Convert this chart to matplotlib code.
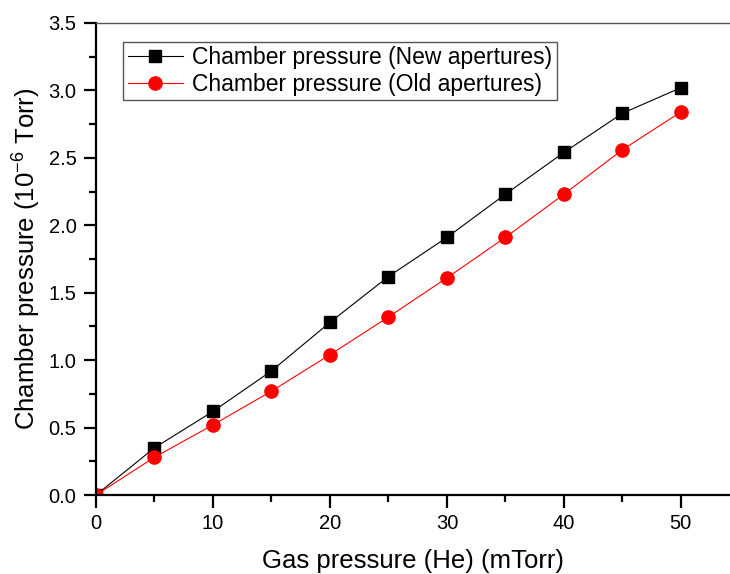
import matplotlib
matplotlib.use('Agg')
import matplotlib.pyplot as plt
from matplotlib.ticker import MultipleLocator

plt.rcParams['font.family'] = ['Liberation Sans', 'DejaVu Sans']
plt.rcParams['mathtext.fontset'] = 'custom'
plt.rcParams['mathtext.rm'] = 'Liberation Sans'

gas_pressure = [0, 5, 10, 15, 20, 25, 30, 35, 40, 45, 50]
new_apertures = [0, 0.35, 0.62, 0.92, 1.28, 1.62, 1.91, 2.23, 2.54, 2.83, 3.02]
old_apertures = [0, 0.28, 0.52, 0.77, 1.04, 1.32, 1.61, 1.91, 2.23, 2.56, 2.84]

fig = plt.figure(figsize=(7.3, 5.74), dpi=100)
ax = fig.add_axes([0.1315, 0.1376, 0.8685, 0.8224])

ax.plot(gas_pressure, new_apertures, color='black', lw=0.8, marker='s', ms=8.5,
        label='Chamber pressure (New apertures)')
ax.plot(gas_pressure, old_apertures, color='red', lw=0.8, marker='o', ms=9.5,
        label='Chamber pressure (Old apertures)')

ax.set_xlim(0, 54.2)
ax.set_ylim(0, 3.5)
ax.xaxis.set_major_locator(MultipleLocator(10))
ax.xaxis.set_minor_locator(MultipleLocator(5))
ax.yaxis.set_major_locator(MultipleLocator(0.5))
ax.yaxis.set_minor_locator(MultipleLocator(0.25))
ax.yaxis.set_major_formatter(matplotlib.ticker.FormatStrFormatter('%.1f'))

for s in ['left', 'bottom']:
    ax.spines[s].set_linewidth(1.6)
ax.spines['right'].set_visible(False)
ax.spines['top'].set_linewidth(1.0)
ax.spines['top'].set_color('#555555')

ax.tick_params(which='major', direction='out', length=9, width=1.6, labelsize=14.5, pad=5)
ax.tick_params(which='minor', direction='out', length=5, width=1.6)
ax.tick_params(top=False, right=False, which='both')

ax.set_xlabel('Gas pressure (He) (mTorr)', fontsize=18.5, labelpad=11)
ax.set_ylabel('Chamber pressure (10$^{\\mathrm{-6}}$ Torr)', fontsize=18.5, labelpad=5)

leg = ax.legend(loc='upper left', bbox_to_anchor=(0.043, 0.96), fontsize=16.5,
                fancybox=False, edgecolor='#555555', framealpha=1,
                handlelength=2.4, borderpad=0.2, labelspacing=0.15, handletextpad=0.4,
                borderaxespad=0)
leg.get_frame().set_linewidth(1.0)

fig.savefig('out.png', dpi=100)
